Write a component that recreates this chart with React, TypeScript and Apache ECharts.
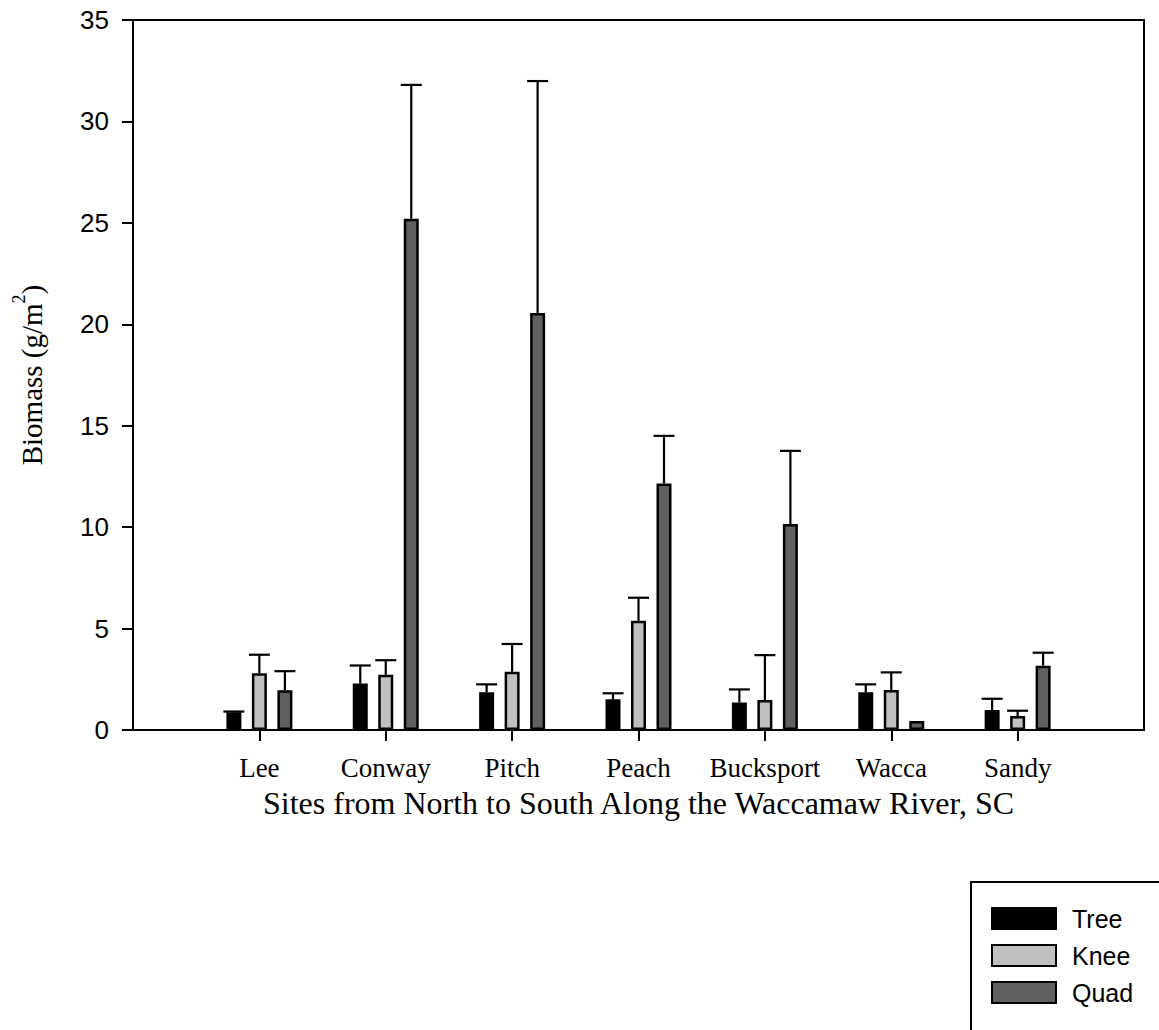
import React, { useEffect, useRef } from "react";
import * as echarts from "echarts";

const sites = ["Lee", "Conway", "Pitch", "Peach", "Bucksport", "Wacca", "Sandy"];
const seriesNames = ["Tree", "Knee", "Quad"];
const treeMean = [0.88, 2.29, 1.86, 1.51, 1.36, 1.86, 0.99];
const treeErr = [0.03, 0.89, 0.39, 0.3, 0.64, 0.39, 0.55];
const kneeMean = [2.8, 2.72, 2.87, 5.38, 1.48, 1.97, 0.69];
const kneeErr = [0.91, 0.72, 1.37, 1.14, 2.21, 0.87, 0.26];
const quadMean = [1.96, 25.2, 20.56, 12.15, 10.15, 0.44, 3.17];
const quadErr = [0.94, 6.6, 11.43, 2.35, 3.61, 0, 0.64];
const yTicks = { min: 0, max: 35, interval: 5 };

const colors = ["#000000", "#c0c0c0", "#606060"];
const SANS = "'Liberation Sans', Arial, sans-serif";
const SERIF = "'Liberation Serif', 'Times New Roman', serif";

export default function App() {
  const ref = useRef<HTMLDivElement>(null);
  useEffect(() => {
    document.body.style.margin = "0";
    if (!ref.current) return;
    const chart = echarts.init(ref.current, undefined, { renderer: "svg" });
    const cats = ["", ...sites, ""];
    const means = [treeMean, kneeMean, quadMean];
    const errs = [treeErr, kneeErr, quadErr];
    const barW = 15;
    const step = 25.5;

    const barSeries = seriesNames.map((name, s) => ({
      name,
      type: "bar",
      data: means[s].map((v, i) => [i + 1, v]),
      barWidth: barW,
      barGap: "70%",
      itemStyle: { color: colors[s], borderColor: "#000", borderWidth: 2.5 },
      z: 2,
    }));

    const errSeries = seriesNames.map((name, s) => ({
      name: name + " error",
      type: "custom",
      z: 3,
      data: means[s].map((v, i) => [i + 1, v, errs[s][i]]),
      renderItem: (params: any, api: any) => {
        const x = api.value(0);
        const m = api.value(1);
        const e = api.value(2);
        if (!(e > 0)) return { type: "group", children: [] };
        const base = api.coord([x, m]);
        const top = api.coord([x, m + e]);
        const cx = base[0] + (s - 1) * step;
        const style = { stroke: "#000", lineWidth: 2.2 };
        return {
          type: "group",
          children: [
            { type: "line", shape: { x1: cx, y1: base[1], x2: cx, y2: top[1] }, style },
            { type: "line", shape: { x1: cx - 10.5, y1: top[1], x2: cx + 10.5, y2: top[1] }, style },
          ],
        };
      },
    }));

    chart.setOption({
      animation: false,
      backgroundColor: "#ffffff",
      grid: {
        left: 133,
        top: 20,
        width: 1011,
        height: 710,
        show: true,
        borderColor: "#000",
        borderWidth: 2,
        backgroundColor: "transparent",
      },
      graphic: [
        {
          type: "rect",
          shape: { x: 971, y: 882, width: 260, height: 220 },
          style: { fill: "#fff", stroke: "#000", lineWidth: 2 },
          z: 0,
        },
      ],
      legend: {
        data: seriesNames,
        orient: "vertical",
        left: 991,
        top: 906,
        padding: 0,
        itemWidth: 64,
        itemHeight: 21,
        itemGap: 12,
        icon: "rect",
        z: 5,
        itemStyle: { borderColor: "#000", borderWidth: 2 },
        textStyle: { fontFamily: SANS, fontSize: 25, color: "#000", padding: [0, 0, 0, 11] },
      },
      xAxis: {
        type: "category",
        data: cats,
        boundaryGap: false,
        axisLine: { lineStyle: { color: "#000", width: 2 } },
        axisTick: {
          length: 11,
          lineStyle: { color: "#000", width: 2 },
          interval: (idx: number, val: string) => val !== "",
        },
        axisLabel: {
          interval: 0,
          margin: 24,
          fontFamily: SERIF,
          fontSize: 27,
          color: "#000",
        },
        splitLine: { show: false },
        name: "Sites from North to South Along the Waccamaw River, SC",
        nameLocation: "middle",
        nameGap: 57,
        nameTextStyle: { fontFamily: SERIF, fontSize: 32, color: "#000" },
      },
      yAxis: {
        type: "value",
        min: yTicks.min,
        max: yTicks.max,
        interval: yTicks.interval,
        axisLine: { show: true, lineStyle: { color: "#000", width: 2 } },
        axisTick: { show: true, length: 11, lineStyle: { color: "#000", width: 2 } },
        axisLabel: { margin: 24, fontFamily: SANS, fontSize: 26, color: "#000" },
        splitLine: { show: false },
        name: "{a|Biomass (g/m}{s|2}{a|)}",
        nameLocation: "middle",
        nameGap: 79,
        nameTextStyle: {
          color: "#000",
          rich: {
            a: { fontFamily: SERIF, fontSize: 29, color: "#000", lineHeight: 44 },
            s: { fontFamily: SERIF, fontSize: 18, color: "#000", lineHeight: 18, verticalAlign: "top" },
          },
        },
      },
      series: [...barSeries, ...errSeries],
    });
    return () => chart.dispose();
  }, []);
  return <div ref={ref} style={{ width: 1159, height: 1030 }} />;
}
